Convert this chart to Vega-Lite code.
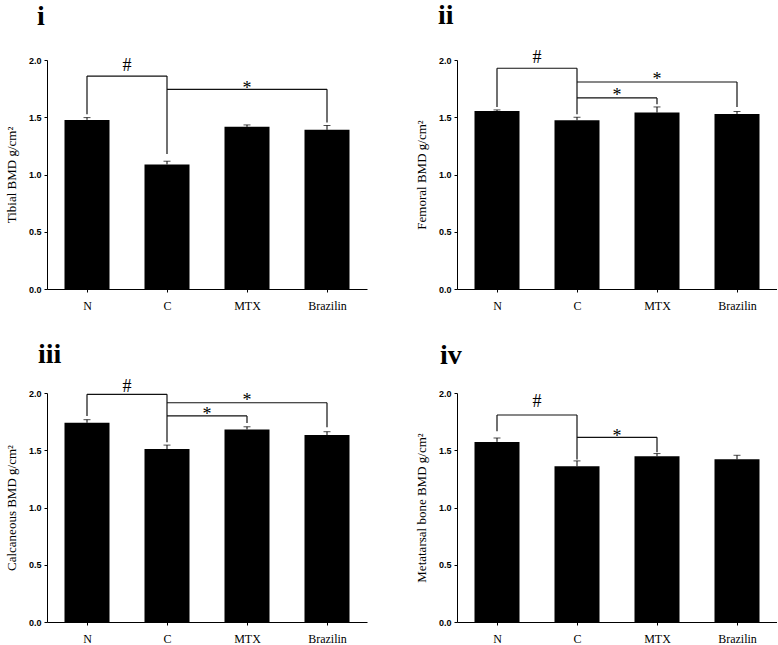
{
  "$schema": "https://vega.github.io/schema/vega-lite/v6.json",
  "background": "white",
  "padding": {"left": 5, "top": 1, "right": 0, "bottom": 0},
  "config": {
    "view": {"stroke": null},
    "axis": {"domainColor": "#000", "tickColor": "#000", "labelColor": "#000", "titleColor": "#000", "grid": false, "domainWidth": 1, "tickWidth": 1},
    "title": {"color": "#000"}
  },
  "datasets": {
    "bars": [
      {"panel": "i", "group": "N", "value": 1.477, "upper": 1.497},
      {"panel": "i", "group": "C", "value": 1.088, "upper": 1.116},
      {"panel": "i", "group": "MTX", "value": 1.416, "upper": 1.433},
      {"panel": "i", "group": "Brazilin", "value": 1.39, "upper": 1.428},
      {"panel": "ii", "group": "N", "value": 1.555, "upper": 1.564},
      {"panel": "ii", "group": "C", "value": 1.474, "upper": 1.5},
      {"panel": "ii", "group": "MTX", "value": 1.541, "upper": 1.59},
      {"panel": "ii", "group": "Brazilin", "value": 1.529, "upper": 1.55},
      {"panel": "iii", "group": "N", "value": 1.74, "upper": 1.767},
      {"panel": "iii", "group": "C", "value": 1.51, "upper": 1.545},
      {"panel": "iii", "group": "MTX", "value": 1.682, "upper": 1.705},
      {"panel": "iii", "group": "Brazilin", "value": 1.633, "upper": 1.662},
      {"panel": "iv", "group": "N", "value": 1.573, "upper": 1.607},
      {"panel": "iv", "group": "C", "value": 1.36, "upper": 1.407},
      {"panel": "iv", "group": "MTX", "value": 1.447, "upper": 1.471},
      {"panel": "iv", "group": "Brazilin", "value": 1.421, "upper": 1.456}
    ],
    "segments": [
      {"panel": "i", "from": "N", "to": "N", "y1": 1.526, "y2": 1.86},
      {"panel": "i", "from": "N", "to": "C", "y1": 1.86, "y2": 1.86},
      {"panel": "i", "from": "C", "to": "C", "y1": 1.178, "y2": 1.86},
      {"panel": "i", "from": "C", "to": "Brazilin", "y1": 1.744, "y2": 1.744},
      {"panel": "i", "from": "Brazilin", "to": "Brazilin", "y1": 1.454, "y2": 1.744},
      {"panel": "ii", "from": "N", "to": "N", "y1": 1.59, "y2": 1.928},
      {"panel": "ii", "from": "N", "to": "C", "y1": 1.928, "y2": 1.928},
      {"panel": "ii", "from": "C", "to": "C", "y1": 1.526, "y2": 1.928},
      {"panel": "ii", "from": "C", "to": "Brazilin", "y1": 1.808, "y2": 1.808},
      {"panel": "ii", "from": "Brazilin", "to": "Brazilin", "y1": 1.59, "y2": 1.808},
      {"panel": "ii", "from": "C", "to": "MTX", "y1": 1.669, "y2": 1.669},
      {"panel": "ii", "from": "MTX", "to": "MTX", "y1": 1.614, "y2": 1.669},
      {"panel": "iii", "from": "N", "to": "N", "y1": 1.8, "y2": 1.988},
      {"panel": "iii", "from": "N", "to": "C", "y1": 1.988, "y2": 1.988},
      {"panel": "iii", "from": "C", "to": "C", "y1": 1.569, "y2": 1.988},
      {"panel": "iii", "from": "C", "to": "Brazilin", "y1": 1.915, "y2": 1.915},
      {"panel": "iii", "from": "Brazilin", "to": "Brazilin", "y1": 1.7, "y2": 1.915},
      {"panel": "iii", "from": "C", "to": "MTX", "y1": 1.8, "y2": 1.8},
      {"panel": "iii", "from": "MTX", "to": "MTX", "y1": 1.738, "y2": 1.8},
      {"panel": "iv", "from": "N", "to": "N", "y1": 1.665, "y2": 1.808},
      {"panel": "iv", "from": "N", "to": "C", "y1": 1.808, "y2": 1.808},
      {"panel": "iv", "from": "C", "to": "C", "y1": 1.42, "y2": 1.808},
      {"panel": "iv", "from": "C", "to": "MTX", "y1": 1.613, "y2": 1.613},
      {"panel": "iv", "from": "MTX", "to": "MTX", "y1": 1.482, "y2": 1.613}
    ],
    "marks": [
      {"panel": "i", "pos": "N|C", "label": "#", "y": 1.904},
      {"panel": "i", "pos": "MTX", "label": "*", "y": 1.703},
      {"panel": "ii", "pos": "N|C", "label": "#", "y": 1.977},
      {"panel": "ii", "pos": "MTX", "label": "*", "y": 1.778},
      {"panel": "ii", "pos": "C|MTX", "label": "*", "y": 1.638},
      {"panel": "iii", "pos": "N|C", "label": "#", "y": 2.006},
      {"panel": "iii", "pos": "MTX", "label": "*", "y": 1.883},
      {"panel": "iii", "pos": "C|MTX", "label": "*", "y": 1.768},
      {"panel": "iv", "pos": "N|C", "label": "#", "y": 1.878},
      {"panel": "iv", "pos": "C|MTX", "label": "*", "y": 1.574}
    ]
  },
  "columns": 2,
  "spacing": {"row": 29, "column": 48},
  "concat": [
    {
      "width": 320, "height": 229,
      "title": {"text": "i", "anchor": "start", "frame": "group", "font": "Liberation Serif", "fontSize": 28, "fontWeight": "bold", "baseline": "alphabetic", "offset": 3, "dx": -10},
      "layer": [
        {
          "data": {"name": "bars"}, "transform": [{"filter": "datum.panel === 'i'"}],
          "mark": {"type": "bar", "color": "#000", "size": 45},
          "encoding": {
            "x": {"field": "group", "type": "ordinal", "scale": {"type": "point", "domain": ["N", "N|C", "C", "C|MTX", "MTX", "MTX|Brazilin", "Brazilin"], "padding": 1.38}, "axis": {"values": ["N", "C", "MTX", "Brazilin"], "title": null, "labelAngle": 0, "labelFont": "Liberation Serif", "labelFontSize": 12, "tickSize": 3, "labelPadding": 8}},
            "y": {"field": "value", "type": "quantitative", "scale": {"domain": [0, 2]}, "axis": {"title": "Tibial BMD  g/cm²", "values": [0, 0.5, 1, 1.5, 2], "format": ".1f", "labelFont": "Liberation Sans", "labelFontWeight": "bold", "labelFontSize": 9, "tickSize": 3, "labelPadding": 3, "titleFont": "Liberation Serif", "titleFontSize": 13, "titleFontWeight": "normal", "titlePadding": 10}}
          }
        },
        {
          "data": {"name": "bars"}, "transform": [{"filter": "datum.panel === 'i'"}],
          "mark": {"type": "rule", "color": "#000", "strokeWidth": 1},
          "encoding": {"x": {"field": "group", "type": "ordinal"}, "y": {"field": "value", "type": "quantitative"}, "y2": {"field": "upper"}}
        },
        {
          "data": {"name": "bars"}, "transform": [{"filter": "datum.panel === 'i'"}],
          "mark": {"type": "tick", "color": "#000", "size": 7, "thickness": 1},
          "encoding": {"x": {"field": "group", "type": "ordinal"}, "y": {"field": "upper", "type": "quantitative"}}
        },
        {
          "data": {"name": "segments"}, "transform": [{"filter": "datum.panel === 'i'"}],
          "mark": {"type": "rule", "color": "#111", "strokeWidth": 1.2},
          "encoding": {"x": {"field": "from", "type": "ordinal"}, "x2": {"field": "to"}, "y": {"field": "y1", "type": "quantitative"}, "y2": {"field": "y2"}}
        },
        {
          "data": {"name": "marks"}, "transform": [{"filter": "datum.panel === 'i'"}],
          "mark": {"type": "text", "font": "Liberation Serif", "fontSize": 18, "color": "#000", "baseline": "alphabetic", "align": "center"},
          "encoding": {"x": {"field": "pos", "type": "ordinal"}, "y": {"field": "y", "type": "quantitative"}, "text": {"field": "label"}}
        }
      ]
    },
    {
      "width": 320, "height": 229,
      "title": {"text": "ii", "anchor": "start", "frame": "group", "font": "Liberation Serif", "fontSize": 28, "fontWeight": "bold", "baseline": "alphabetic", "offset": -3, "dx": -19},
      "layer": [
        {
          "data": {"name": "bars"}, "transform": [{"filter": "datum.panel === 'ii'"}],
          "mark": {"type": "bar", "color": "#000", "size": 45},
          "encoding": {
            "x": {"field": "group", "type": "ordinal", "scale": {"type": "point", "domain": ["N", "N|C", "C", "C|MTX", "MTX", "MTX|Brazilin", "Brazilin"], "padding": 1.38}, "axis": {"values": ["N", "C", "MTX", "Brazilin"], "title": null, "labelAngle": 0, "labelFont": "Liberation Serif", "labelFontSize": 12, "tickSize": 3, "labelPadding": 8}},
            "y": {"field": "value", "type": "quantitative", "scale": {"domain": [0, 2]}, "axis": {"title": "Femoral BMD  g/cm²", "values": [0, 0.5, 1, 1.5, 2], "format": ".1f", "labelFont": "Liberation Sans", "labelFontWeight": "bold", "labelFontSize": 9, "tickSize": 3, "labelPadding": 3, "titleFont": "Liberation Serif", "titleFontSize": 13, "titleFontWeight": "normal", "titlePadding": 10}}
          }
        },
        {
          "data": {"name": "bars"}, "transform": [{"filter": "datum.panel === 'ii'"}],
          "mark": {"type": "rule", "color": "#000", "strokeWidth": 1},
          "encoding": {"x": {"field": "group", "type": "ordinal"}, "y": {"field": "value", "type": "quantitative"}, "y2": {"field": "upper"}}
        },
        {
          "data": {"name": "bars"}, "transform": [{"filter": "datum.panel === 'ii'"}],
          "mark": {"type": "tick", "color": "#000", "size": 7, "thickness": 1},
          "encoding": {"x": {"field": "group", "type": "ordinal"}, "y": {"field": "upper", "type": "quantitative"}}
        },
        {
          "data": {"name": "segments"}, "transform": [{"filter": "datum.panel === 'ii'"}],
          "mark": {"type": "rule", "color": "#111", "strokeWidth": 1.2},
          "encoding": {"x": {"field": "from", "type": "ordinal"}, "x2": {"field": "to"}, "y": {"field": "y1", "type": "quantitative"}, "y2": {"field": "y2"}}
        },
        {
          "data": {"name": "marks"}, "transform": [{"filter": "datum.panel === 'ii'"}],
          "mark": {"type": "text", "font": "Liberation Serif", "fontSize": 18, "color": "#000", "baseline": "alphabetic", "align": "center"},
          "encoding": {"x": {"field": "pos", "type": "ordinal"}, "y": {"field": "y", "type": "quantitative"}, "text": {"field": "label"}}
        }
      ]
    },
    {
      "width": 320, "height": 229,
      "title": {"text": "iii", "anchor": "start", "frame": "group", "font": "Liberation Serif", "fontSize": 28, "fontWeight": "bold", "baseline": "alphabetic", "offset": -12.5, "dx": -9},
      "layer": [
        {
          "data": {"name": "bars"}, "transform": [{"filter": "datum.panel === 'iii'"}],
          "mark": {"type": "bar", "color": "#000", "size": 45},
          "encoding": {
            "x": {"field": "group", "type": "ordinal", "scale": {"type": "point", "domain": ["N", "N|C", "C", "C|MTX", "MTX", "MTX|Brazilin", "Brazilin"], "padding": 1.38}, "axis": {"values": ["N", "C", "MTX", "Brazilin"], "title": null, "labelAngle": 0, "labelFont": "Liberation Serif", "labelFontSize": 12, "tickSize": 3, "labelPadding": 8}},
            "y": {"field": "value", "type": "quantitative", "scale": {"domain": [0, 2]}, "axis": {"title": "Calcaneous BMD  g/cm²", "values": [0, 0.5, 1, 1.5, 2], "format": ".1f", "labelFont": "Liberation Sans", "labelFontWeight": "bold", "labelFontSize": 9, "tickSize": 3, "labelPadding": 3, "titleFont": "Liberation Serif", "titleFontSize": 13, "titleFontWeight": "normal", "titlePadding": 10}}
          }
        },
        {
          "data": {"name": "bars"}, "transform": [{"filter": "datum.panel === 'iii'"}],
          "mark": {"type": "rule", "color": "#000", "strokeWidth": 1},
          "encoding": {"x": {"field": "group", "type": "ordinal"}, "y": {"field": "value", "type": "quantitative"}, "y2": {"field": "upper"}}
        },
        {
          "data": {"name": "bars"}, "transform": [{"filter": "datum.panel === 'iii'"}],
          "mark": {"type": "tick", "color": "#000", "size": 7, "thickness": 1},
          "encoding": {"x": {"field": "group", "type": "ordinal"}, "y": {"field": "upper", "type": "quantitative"}}
        },
        {
          "data": {"name": "segments"}, "transform": [{"filter": "datum.panel === 'iii'"}],
          "mark": {"type": "rule", "color": "#111", "strokeWidth": 1.2},
          "encoding": {"x": {"field": "from", "type": "ordinal"}, "x2": {"field": "to"}, "y": {"field": "y1", "type": "quantitative"}, "y2": {"field": "y2"}}
        },
        {
          "data": {"name": "marks"}, "transform": [{"filter": "datum.panel === 'iii'"}],
          "mark": {"type": "text", "font": "Liberation Serif", "fontSize": 18, "color": "#000", "baseline": "alphabetic", "align": "center"},
          "encoding": {"x": {"field": "pos", "type": "ordinal"}, "y": {"field": "y", "type": "quantitative"}, "text": {"field": "label"}}
        }
      ]
    },
    {
      "width": 320, "height": 229,
      "title": {"text": "iv", "anchor": "start", "frame": "group", "font": "Liberation Serif", "fontSize": 28, "fontWeight": "bold", "baseline": "alphabetic", "offset": -3, "dx": -17},
      "layer": [
        {
          "data": {"name": "bars"}, "transform": [{"filter": "datum.panel === 'iv'"}],
          "mark": {"type": "bar", "color": "#000", "size": 45},
          "encoding": {
            "x": {"field": "group", "type": "ordinal", "scale": {"type": "point", "domain": ["N", "N|C", "C", "C|MTX", "MTX", "MTX|Brazilin", "Brazilin"], "padding": 1.38}, "axis": {"values": ["N", "C", "MTX", "Brazilin"], "title": null, "labelAngle": 0, "labelFont": "Liberation Serif", "labelFontSize": 12, "tickSize": 3, "labelPadding": 8}},
            "y": {"field": "value", "type": "quantitative", "scale": {"domain": [0, 2]}, "axis": {"title": "Metatarsal bone BMD g/cm²", "values": [0, 0.5, 1, 1.5, 2], "format": ".1f", "labelFont": "Liberation Sans", "labelFontWeight": "bold", "labelFontSize": 9, "tickSize": 3, "labelPadding": 3, "titleFont": "Liberation Serif", "titleFontSize": 13, "titleFontWeight": "normal", "titlePadding": 10}}
          }
        },
        {
          "data": {"name": "bars"}, "transform": [{"filter": "datum.panel === 'iv'"}],
          "mark": {"type": "rule", "color": "#000", "strokeWidth": 1},
          "encoding": {"x": {"field": "group", "type": "ordinal"}, "y": {"field": "value", "type": "quantitative"}, "y2": {"field": "upper"}}
        },
        {
          "data": {"name": "bars"}, "transform": [{"filter": "datum.panel === 'iv'"}],
          "mark": {"type": "tick", "color": "#000", "size": 7, "thickness": 1},
          "encoding": {"x": {"field": "group", "type": "ordinal"}, "y": {"field": "upper", "type": "quantitative"}}
        },
        {
          "data": {"name": "segments"}, "transform": [{"filter": "datum.panel === 'iv'"}],
          "mark": {"type": "rule", "color": "#111", "strokeWidth": 1.2},
          "encoding": {"x": {"field": "from", "type": "ordinal"}, "x2": {"field": "to"}, "y": {"field": "y1", "type": "quantitative"}, "y2": {"field": "y2"}}
        },
        {
          "data": {"name": "marks"}, "transform": [{"filter": "datum.panel === 'iv'"}],
          "mark": {"type": "text", "font": "Liberation Serif", "fontSize": 18, "color": "#000", "baseline": "alphabetic", "align": "center"},
          "encoding": {"x": {"field": "pos", "type": "ordinal"}, "y": {"field": "y", "type": "quantitative"}, "text": {"field": "label"}}
        }
      ]
    }
  ]
}
